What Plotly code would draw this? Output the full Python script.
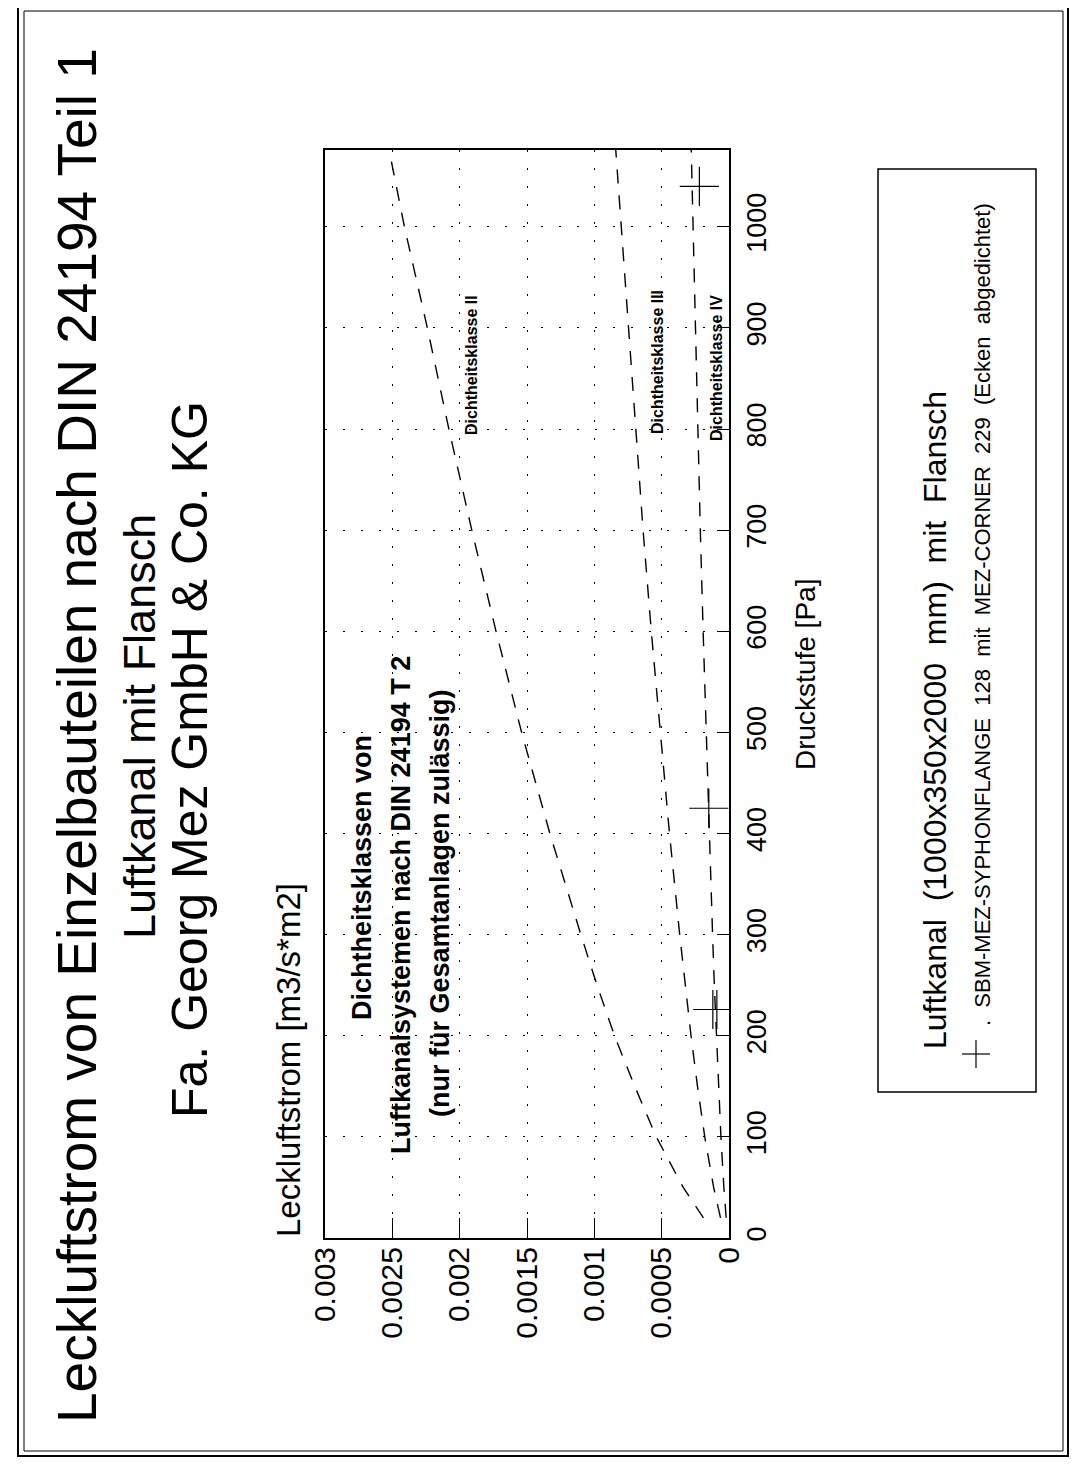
import plotly.graph_objects as go

# ---------------- data ----------------
pressure = [20, 50, 100, 150, 200, 250, 300, 400, 500, 600, 700, 800, 900, 1000, 1080]
klasse_ii = [0.00019, 0.00034, 0.00054, 0.00070, 0.00085, 0.00098, 0.00110, 0.00133,
             0.00154, 0.00173, 0.00191, 0.00208, 0.00224, 0.00241, 0.00253]
klasse_iii = [0.000063, 0.000114, 0.00018, 0.000234, 0.000282, 0.000326, 0.000366, 0.000442,
              0.000512, 0.000577, 0.000638, 0.000693, 0.000747, 0.000802, 0.000843]
klasse_iv = [0.000021, 0.000038, 0.00006, 0.000078, 0.000094, 0.000109, 0.000122, 0.000147,
             0.000171, 0.000192, 0.000213, 0.000231, 0.000249, 0.000267, 0.000281]
mess_druck = [226, 226, 425, 1040]
mess_leck = [0.00012, 0.00009, 0.00015, 0.00022]

leck_ticks = [0, 0.0005, 0.001, 0.0015, 0.002, 0.0025, 0.003]
leck_labels = ["0", "0.0005", "0.001", "0.0015", "0.002", "0.0025", "0.003"]
druck_ticks = [0, 100, 200, 300, 400, 500, 600, 700, 800, 900, 1000]
druck_labels = [str(v) for v in druck_ticks]

# ---------------- layout geometry (reference page pixels) ----------------
OFF = 8                      # browser body margin
W, H = 1080 - OFF, 1466 - OFF
PL, PR, PT, PB = 325, 729, 150, 1238
FONT = "Liberation Sans, Arial, Helvetica, sans-serif"


def px(x):
    return (x - PL) / (PR - PL)


def py(y):
    return (PB - y) / (PB - PT)


fig = go.Figure()
dash = "14px,12px"
for vals in (klasse_ii, klasse_iii, klasse_iv):
    fig.add_trace(go.Scatter(x=vals, y=pressure, mode="lines",
                             line=dict(color="black", width=1.4, dash=dash),
                             showlegend=False, hoverinfo="skip"))

fig.add_trace(go.Scatter(x=mess_leck, y=mess_druck, mode="markers",
                         marker=dict(symbol="cross-thin", size=28, color="black",
                                     line=dict(width=1.2, color="black")),
                         showlegend=False))

grid = dict(showgrid=True, gridcolor="black", gridwidth=1, griddash="2px,16px")
fig.update_xaxes(range=[0.003, 0], tickvals=leck_ticks, ticktext=leck_labels,
                 tickangle=-90, ticks="inside", ticklen=20, tickcolor="black",
                 showline=True, linecolor="black", linewidth=2, mirror=True,
                 zeroline=False, ticklabelstandoff=-5,
                 tickfont=dict(family=FONT, size=30, color="black"), **grid)
fig.update_yaxes(range=[0, 1076], tickvals=druck_ticks, ticktext=druck_labels,
                 side="right", tickangle=-90, ticks="inside", ticklen=12,
                 tickcolor="black", showline=True, linecolor="black", linewidth=2,
                 mirror=True, zeroline=False, ticklabelstandoff=3,
                 tickfont=dict(family=FONT, size=27, color="black"), **grid)

ann = []


def txt(x, y, s, size, bold=False, color="black"):
    if bold:
        s = "<b>" + s + "</b>"
    ann.append(dict(x=px(x), y=py(y), xref="paper", yref="paper", text=s,
                    showarrow=False, textangle=-90, xanchor="center", yanchor="middle",
                    font=dict(family=FONT, size=size, color=color)))


# titles
txt(77, 736, "Leckluftstrom von Einzelbauteilen nach DIN 24194 Teil 1", 55)
txt(139, 727, "Luftkanal mit Flansch", 45)
txt(190, 760, "Fa. Georg Mez GmbH &amp; Co. KG", 50)
# axis titles
txt(288, 1060, "Leckluftstrom [m3/s*m2]", 33)
txt(805, 675, "Druckstufe [Pa]", 28)
# inside notes
txt(362, 878, "Dichtheitsklassen von", 27, bold=True)
txt(401, 905, "Luftkanalsystemen nach DIN 24194 T 2", 27, bold=True)
txt(440, 903, "(nur für Gesamtanlagen zulässig)", 27, bold=True)
txt(471, 365, "Dichtheitsklasse II", 16, bold=True)
txt(657, 362, "Dichtheitsklasse III", 16, bold=True)
txt(717, 368, "Dichtheitsklasse IV", 16, bold=True)
# legend
txt(935, 720, "Luftkanal&nbsp;&nbsp;(1000x350x2000&nbsp;&nbsp;mm)&nbsp;&nbsp;mit&nbsp;&nbsp;Flansch", 32)
txt(982, 615, ".&nbsp;&nbsp;SBM-MEZ-SYPHONFLANGE&nbsp;&nbsp;128&nbsp;&nbsp;mit&nbsp;&nbsp;MEZ-CORNER&nbsp;&nbsp;229&nbsp;&nbsp;(Ecken&nbsp;&nbsp;abgedichtet)", 22)

shapes = []


def line(x0, y0, x1, y1, w=1.5):
    shapes.append(dict(type="line", xref="paper", yref="paper",
                       x0=px(x0), y0=py(y0), x1=px(x1), y1=py(y1),
                       line=dict(color="black", width=w)))


def rect(x0, y0, x1, y1, w=1.5):
    shapes.append(dict(type="rect", xref="paper", yref="paper",
                       x0=px(x0), y0=py(y0), x1=px(x1), y1=py(y1),
                       line=dict(color="black", width=w)))


rect(878, 169, 1036, 1092, 1.5)          # legend frame
line(976, 1040, 976, 1068, 1.2)          # legend "+"
line(962, 1054, 990, 1054, 1.2)
rect(18, 6, 1068, 1456, 2)               # page frame outer
rect(24, 11, 1063, 1451, 1)              # page frame inner

fig.update_layout(width=W, height=H, autosize=False,
                  margin=dict(l=PL - OFF, r=W - (PR - OFF), t=PT - OFF, b=H - (PB - OFF), pad=0),
                  paper_bgcolor="white", plot_bgcolor="white",
                  annotations=ann, shapes=shapes, showlegend=False,
                  font=dict(family=FONT, color="black"))

fig.write_html("out.html")
